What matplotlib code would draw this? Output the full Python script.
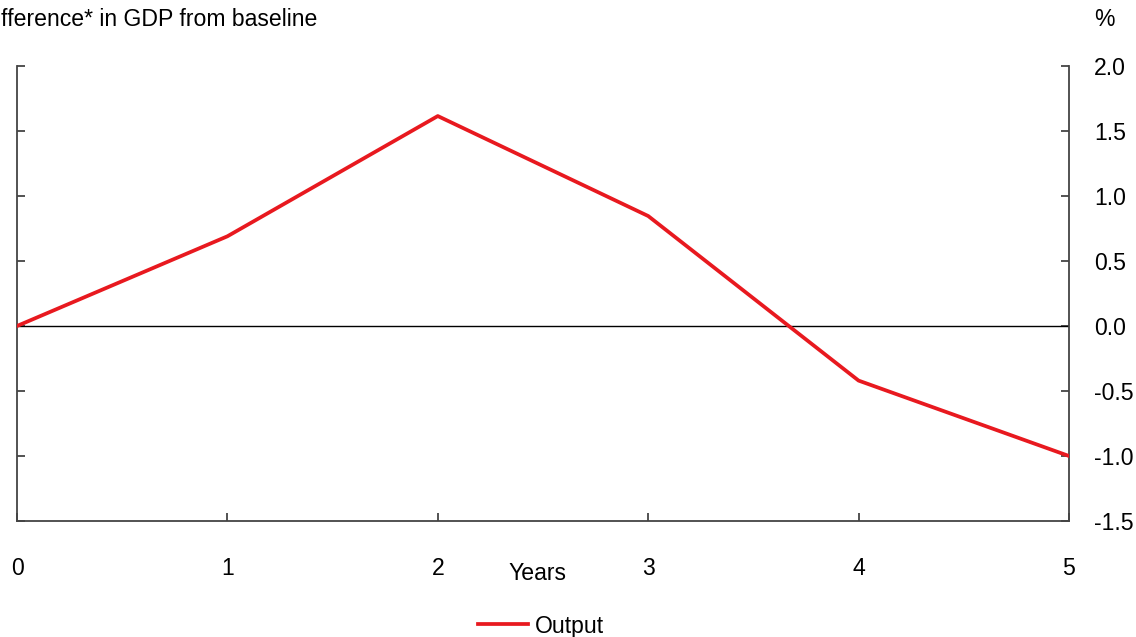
import matplotlib.pyplot as plt
import numpy as np

plt.rcParams['font.family'] = ['Liberation Sans', 'DejaVu Sans']

years = [0, 1, 2, 3, 4, 5]
output = [0.0, 0.69, 1.615, 0.846, -0.42, -1.0]
y_ticks = [-1.5, -1.0, -0.5, 0.0, 0.5, 1.0, 1.5, 2.0]

W, H = 1136, 637
fs = 16.6
fig = plt.figure(figsize=(W / 100, H / 100), dpi=100)
ax = fig.add_axes([17 / W, 1 - 521 / H, (1069 - 17) / W, (521 - 66) / H])

ax.plot(years, output, color='#e8191f', lw=2.7, label='Output', zorder=3)
ax.axhline(0, color='black', lw=1)

ax.set_xlim(0, 5)
ax.set_ylim(-1.5, 2.0)
ax.set_xticks(years)
ax.set_yticks(y_ticks)
ax.set_yticklabels([f'{v:.1f}' for v in y_ticks])

ax.spines['top'].set_visible(False)
for s in ['left', 'right', 'bottom']:
    ax.spines[s].set_color('#444444')
    ax.spines[s].set_linewidth(1.3)

ax.tick_params(axis='y', which='both', direction='in', left=True, right=True,
               labelleft=False, labelright=True, length=6, width=1.3,
               color='#444444', labelsize=fs, pad=18)
ax.tick_params(axis='x', direction='in', length=6, width=1.3, color='#444444',
               labelsize=fs, pad=26)

fig.text(1 / W, 1 - 20 / H, 'fference* in GDP from baseline', fontsize=fs,
         va='center', ha='left')
fig.text(1104 / W, 1 - 20 / H, '%', fontsize=fs, va='center', ha='center')
fig.text(537 / W, 1 - 574 / H, 'Years', fontsize=fs, va='center', ha='center')

leg = fig.legend(loc='center', bbox_to_anchor=(541 / W, 1 - 626 / H), frameon=False,
                 fontsize=fs, handlelength=2.2, handletextpad=0.3)

fig.savefig('out.png', dpi=100)
